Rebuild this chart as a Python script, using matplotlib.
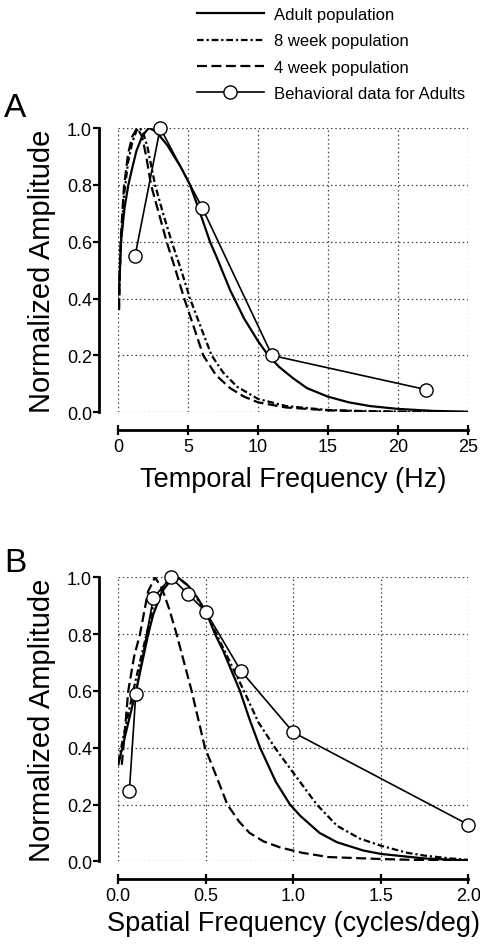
import matplotlib
matplotlib.use("Agg")
import matplotlib.pyplot as plt
from matplotlib.lines import Line2D

plt.rcParams['font.family'] = ['Liberation Sans', 'DejaVu Sans']

# ---------------- Panel A data (temporal frequency, Hz) ----------------
a_adult_x = [0.05, 0.19, 0.45, 0.72, 1.0, 1.3, 1.7, 2.0, 2.2, 2.6, 3.0, 3.5, 4.0, 4.5, 5.13, 5.5,
             6.0, 6.56, 7.0, 7.5, 8.0, 8.5, 9.0, 9.5, 10.0, 10.73, 11.5, 12.5, 13.5, 15.0, 16.5,
             18.0, 20.0, 22.5, 25.0]
a_adult_y = [0.42, 0.6, 0.72, 0.8, 0.86, 0.92, 0.97, 0.99, 1.0, 0.99, 0.97, 0.94, 0.9, 0.86, 0.8, 0.75,
             0.68, 0.6, 0.55, 0.49, 0.43, 0.38, 0.33, 0.29, 0.25, 0.2, 0.16, 0.12, 0.085, 0.055, 0.035,
             0.022, 0.012, 0.005, 0.002]

a_wk8_x = [0.05, 0.1, 0.2, 0.4, 0.7, 1.0, 1.3, 1.55, 1.8, 2.1, 2.63, 3.2, 3.82, 4.5, 5.13, 5.9,
           6.68, 7.5, 8.5, 10.0, 12.0, 15.0, 18.0, 21.0, 25.0]
a_wk8_y = [0.36, 0.48, 0.6, 0.76, 0.88, 0.95, 0.99, 1.0, 0.98, 0.93, 0.8, 0.7, 0.6, 0.5, 0.4, 0.3,
           0.2, 0.14, 0.09, 0.047, 0.022, 0.008, 0.004, 0.002, 0.001]

a_wk4_x = [0.05, 0.1, 0.2, 0.4, 0.7, 1.0, 1.35, 1.7, 2.0, 2.34, 2.9, 3.46, 4.1, 4.72, 5.4, 6.08,
           7.0, 8.0, 9.0, 10.0, 12.0, 15.0, 18.0, 21.0, 25.0]
a_wk4_y = [0.36, 0.5, 0.63, 0.79, 0.91, 0.97, 1.0, 0.97, 0.9, 0.8, 0.7, 0.6, 0.5, 0.4, 0.3, 0.2,
           0.13, 0.085, 0.055, 0.035, 0.017, 0.007, 0.003, 0.001, 0.0]

a_behav_x = [1.2, 3.0, 6.0, 11.0, 22.0]
a_behav_y = [0.55, 1.0, 0.72, 0.2, 0.08]

a_xticks = [0, 5, 10, 15, 20, 25]
a_xticklabels = ["0", "5", "10", "15", "20", "25"]

# ---------------- Panel B data (spatial frequency, cycles/deg) ----------------
b_adult_x = [0.0, 0.05, 0.105, 0.171, 0.2, 0.25, 0.3, 0.34, 0.4, 0.45, 0.5, 0.553, 0.6, 0.695,
             0.75, 0.81, 0.9, 0.981, 1.04, 1.15, 1.25, 1.4, 1.5, 1.75, 2.0]
b_adult_y = [0.34, 0.47, 0.61, 0.8, 0.87, 0.95, 0.99, 1.0, 0.97, 0.93, 0.88, 0.8, 0.74, 0.6,
             0.5, 0.4, 0.28, 0.2, 0.16, 0.1, 0.067, 0.038, 0.026, 0.01, 0.003]

b_wk8_x = [0.0, 0.05, 0.1, 0.15, 0.2, 0.25, 0.3, 0.35, 0.4, 0.5, 0.553, 0.6, 0.718, 0.8, 0.895,
           0.96, 1.038, 1.134, 1.25, 1.38, 1.5, 1.65, 1.75, 1.9, 2.0]
b_wk8_y = [0.35, 0.5, 0.64, 0.77, 0.9, 0.96, 1.0, 0.995, 0.97, 0.88, 0.81, 0.75, 0.6, 0.49, 0.4,
           0.345, 0.28, 0.2, 0.125, 0.08, 0.055, 0.03, 0.02, 0.01, 0.005]

b_wk4_x = [0.02, 0.029, 0.057, 0.09, 0.124, 0.17, 0.21, 0.25, 0.29, 0.333, 0.376, 0.419, 0.457,
           0.495, 0.56, 0.623, 0.69, 0.75, 0.83, 0.924, 1.05, 1.2, 1.5, 1.75, 2.0]
b_wk4_y = [0.34, 0.4, 0.6, 0.72, 0.8, 0.95, 1.0, 0.96, 0.89, 0.8, 0.7, 0.6, 0.5,
           0.4, 0.3, 0.2, 0.14, 0.1, 0.07, 0.049, 0.03, 0.015, 0.008, 0.004, 0.002]

b_behav_x = [0.063, 0.1, 0.2, 0.3, 0.4, 0.5, 0.7, 1.0, 2.0]
b_behav_y = [0.246, 0.59, 0.927, 1.0, 0.94, 0.879, 0.671, 0.454, 0.129]

b_xticks = [0.0, 0.5, 1.0, 1.5, 2.0]
b_xticklabels = ["0.0", "0.5", "1.0", "1.5", "2.0"]

yticks = [0.0, 0.2, 0.4, 0.6, 0.8, 1.0]
yticklabels = ["0.0", "0.2", "0.4", "0.6", "0.8", "1.0"]

legend_labels = ["Adult population", "8 week population", "4 week population",
                 "Behavioral data for Adults"]

# ---------------- styles ----------------
LW = 1.6
DASH = (0, (4.5, 2.0))
DASHDOT = (0, (3.0, 1.3, 1.0, 1.3))
GRID = dict(color="#444444", linestyle=(0, (1.2, 2.2)), linewidth=0.9)
TICKFS = 13
LABFS = 19.5
YLABFS = 21

fig = plt.figure(figsize=(4.8, 9.45), dpi=100)
W, H = 480.0, 945.0

axA = fig.add_axes([118.3 / W, 1 - 413.3 / H, 349.4 / W, 284.3 / H])
axB = fig.add_axes([118.3 / W, 1 - 862.3 / H, 350.0 / W, 284.0 / H])


def style(ax, xmax, xticks, xticklabels, xlabel, xlab_y):
    ax.set_xlim(0, xmax)
    ax.set_ylim(0, 1)
    ax.set_xticks(xticks)
    ax.set_xticklabels(xticklabels)
    ax.set_yticks(yticks)
    ax.set_yticklabels(yticklabels)
    ax.grid(True, **GRID)
    ax.set_axisbelow(True)
    for s in ["top", "right"]:
        ax.spines[s].set_visible(False)
    ax.spines["left"].set_position(("outward", 14))
    ax.spines["bottom"].set_position(("outward", 13))
    ax.spines["left"].set_linewidth(2.0)
    ax.spines["bottom"].set_linewidth(2.0)
    ax.tick_params(axis="y", direction="out", length=4, width=1.6, labelsize=TICKFS, pad=1)
    ax.tick_params(axis="x", direction="inout", length=7, width=1.6, labelsize=TICKFS, pad=2)
    ax.set_ylabel("Normalized Amplitude", fontsize=YLABFS)
    ax.yaxis.set_label_coords(-0.178, 0.5)
    ax.set_xlabel(xlabel, fontsize=LABFS)
    ax.xaxis.set_label_coords(0.5, xlab_y)


def draw(ax, ad_x, ad_y, w8_x, w8_y, w4_x, w4_y, bx, by):
    ax.plot(w4_x, w4_y, color="black", lw=LW, linestyle=DASH)
    ax.plot(w8_x, w8_y, color="black", lw=LW, linestyle=DASHDOT)
    ax.plot(ad_x, ad_y, color="black", lw=LW, linestyle="-")
    ax.plot(bx, by, color="black", lw=1.2, marker="o", markersize=9.5,
            markerfacecolor="white", markeredgecolor="black", markeredgewidth=1.0,
            clip_on=False, zorder=5)


draw(axA, a_adult_x, a_adult_y, a_wk8_x, a_wk8_y, a_wk4_x, a_wk4_y, a_behav_x, a_behav_y)
draw(axB, b_adult_x, b_adult_y, b_wk8_x, b_wk8_y, b_wk4_x, b_wk4_y, b_behav_x, b_behav_y)

style(axA, 25, a_xticks, a_xticklabels, "Temporal Frequency (Hz)", -0.19)
style(axB, 2.0, b_xticks, b_xticklabels, "Spatial Frequency (cycles/deg)", -0.172)

fig.text(4 / W, 1 - 117 / H, "A", fontsize=24, ha="left", va="baseline")
fig.text(4 / W, 1 - 572 / H, "B", fontsize=24, ha="left", va="baseline")

handles = [
    Line2D([], [], color="black", lw=LW, linestyle="-"),
    Line2D([], [], color="black", lw=LW, linestyle=DASHDOT),
    Line2D([], [], color="black", lw=LW, linestyle=DASH),
    Line2D([], [], color="black", lw=1.2, marker="o", markersize=9.5,
           markerfacecolor="white", markeredgecolor="black", markeredgewidth=1.0),
]
fig.legend(handles, legend_labels, loc="upper left", bbox_to_anchor=(197 / W, 1 - 8 / H),
           frameon=False, fontsize=12, handlelength=4.0, handletextpad=0.6,
           labelspacing=0.68, borderpad=0, borderaxespad=0, numpoints=1)

fig.savefig("out.png", dpi=100)
